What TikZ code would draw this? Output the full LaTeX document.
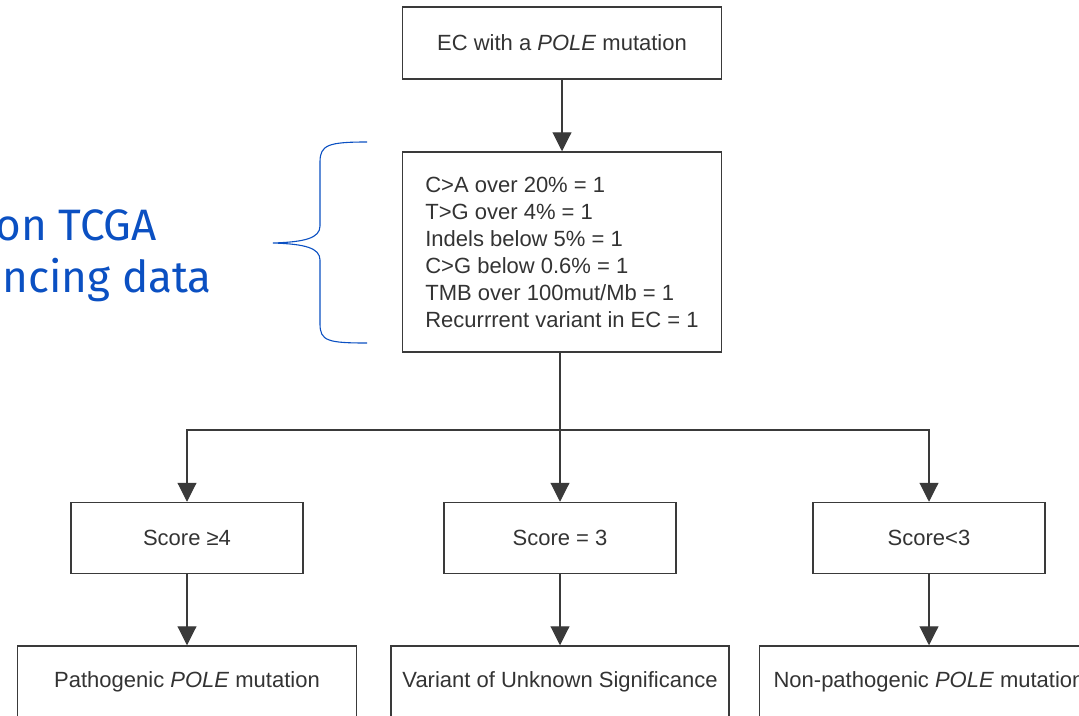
\documentclass[tikz,border=0pt]{standalone}
\usepackage{fontspec}
\setmainfont{Liberation Sans}
\newfontfamily\notefont{Fira Sans}
\usepackage{xcolor}
\usetikzlibrary{positioning, arrows.meta, calc}

\definecolor{linegray}{HTML}{3A3A3A}
\definecolor{textgray}{HTML}{333333}
\definecolor{noteblue}{HTML}{0B50C2}

\begin{document}
\begin{tikzpicture}[x=1pt, y=-1pt,
        box/.style={draw=linegray, line width=1.5pt, text=textgray,
            font=\fontsize{22}{27}\selectfont, inner sep=0pt},
        conn/.style={draw=linegray, line width=1.1pt},
        arr/.style={conn, -{Triangle[width=19pt,length=19pt]}},
        note/.style={text=noteblue, font=\notefont\fontsize{44}{52}\selectfont, inner sep=0pt}]
        % Page frame
        \useasboundingbox (0,0) rectangle (1079,715);
        \clip (0,0) rectangle (1079,715);

        % Start box and criteria box
        \node[box, minimum width=319pt, minimum height=72pt] (ec) at (562,43)
            {EC with a \textit{POLE} mutation};
        \node[box, minimum width=319pt, minimum height=200pt, align=left] (crit) at (562,252)
            {C>A over 20\% = 1\\
             T>G over 4\% = 1\\
             Indels below 5\% = 1\\
             C>G below 0.6\% = 1\\
             TMB over 100mut/Mb = 1\\
             Recurrrent variant in EC = 1};

        % Score boxes
        \node[box, minimum width=232pt, minimum height=71pt] (shigh) at (187,538) {Score ≥4};
        \node[box, minimum width=232pt, minimum height=71pt] (smid) at (560,538) {Score = 3};
        \node[box, minimum width=232pt, minimum height=71pt] (slow) at (929,538) {Score<3};

        % Outcome boxes (cut by the page edge)
        \node[box, minimum width=339pt, minimum height=72pt] (patho) at (187,682)
            {Pathogenic \textit{POLE} mutation};
        \node[box, minimum width=338pt, minimum height=72pt] (vus) at (560,682)
            {Variant of Unknown Significance};
        \node[box, minimum width=339pt, minimum height=72pt] (nonpatho) at (929,682)
            {Non-pathogenic \textit{POLE} mutation};

        % Connectors
        \coordinate (split) at (560,430);
        \draw[arr] (ec) -- (crit);
        \draw[conn] (crit.south -| split) -- (split);
        \draw[arr] (split) -| (shigh);
        \draw[arr] (split) -- (smid);
        \draw[arr] (split) -| (slow);
        \draw[arr] (shigh) -- (patho);
        \draw[arr] (smid) -- (vus);
        \draw[arr] (slow) -- (nonpatho);

        % Blue brace and note on the left
        \draw[noteblue, line width=1.1pt]
            (367,142) .. controls (328,142) and (320,145) .. (320,162)
            -- (320,226) .. controls (320,238) and (305,242) .. (273,243)
            .. controls (305,244) and (320,248) .. (320,260)
            -- (320,324) .. controls (320,341) and (328,343) .. (367,343);
        \node[note, anchor=base east] (tcga) at (157,240) {on TCGA};
        \node[note, anchor=base east] (seqdata) at (212,292) {ncing data};
    \end{tikzpicture}
\end{document}
